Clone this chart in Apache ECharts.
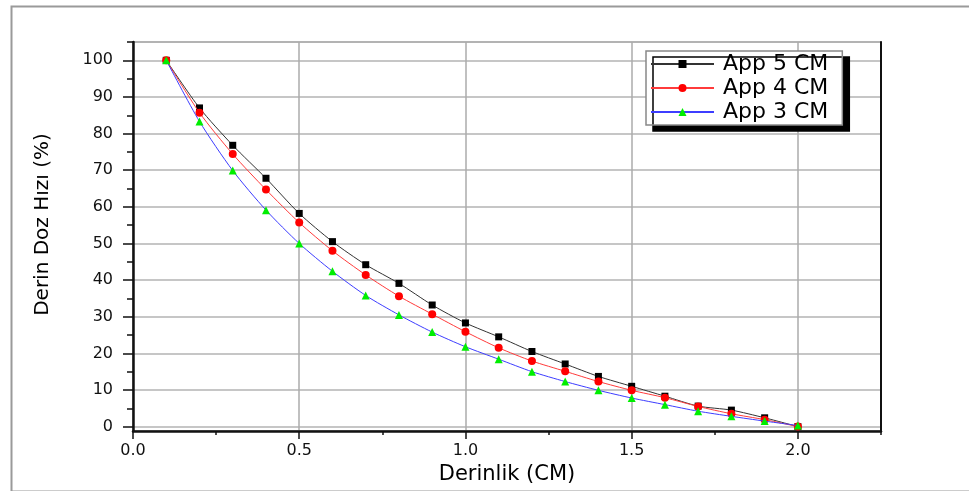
<!DOCTYPE html>
<html>
<head>
<meta charset="utf-8">
<script src="https://cdn.jsdelivr.net/npm/echarts@6/dist/echarts.min.js"></script>
<style>html,body{margin:0;padding:0;background:#fff}#c{width:969px;height:491px}</style>
</head>
<body>
<div id="c"></div>
<script>
// Depth (cm)
var depth = [0.1,0.2,0.3,0.4,0.5,0.6,0.7,0.8,0.9,1.0,1.1,1.2,1.3,1.4,1.5,1.6,1.7,1.8,1.9,2.0];
var seriesNames = ['App 5 CM','App 4 CM','App 3 CM'];
var app5 = [100,87.0,76.8,67.8,58.2,50.5,44.2,39.1,33.2,28.3,24.5,20.5,17.1,13.7,11.0,8.3,5.6,4.5,2.4,0];
var app4 = [100,85.7,74.4,64.7,55.7,48.0,41.4,35.6,30.7,25.9,21.5,17.9,15.1,12.3,9.9,7.9,5.5,3.5,1.9,0];
var app3 = [100,83.3,69.9,59.1,50.0,42.4,35.8,30.5,25.8,21.8,18.4,15.0,12.3,9.9,7.8,6.0,4.2,2.8,1.5,0.3];
var xMajor = [0,0.5,1.0,1.5,2.0];
var xMinor = [0.25,0.75,1.25,1.75,2.25];
var yMajor = [0,10,20,30,40,50,60,70,80,90,100];
var yMinor = [5,15,25,35,45,55,65,75,85,95,105];

function pairs(ys){ return depth.map(function(x,i){ return [x, ys[i]]; }); }

var FONT = 'DejaVu Sans';
var chart = echarts.init(document.getElementById('c'), null, {renderer:'canvas'});
var Y_MIN = -1.2, Y_MAX = 105, X_MIN = 0, X_MAX = 2.25;

chart.setOption({
  animation: false,
  backgroundColor: '#fff',
  graphic: [{
    type: 'rect', left: 9, top: 4, z: -10,
    shape: {width: 990, height: 485},
    style: {fill: 'none', stroke: '#9a9a9a', lineWidth: 2}
  }],
  grid: {left: 133, right: 88, top: 42, bottom: 60, show: true, borderColor: '#9a9a9a', borderWidth: 1.5, backgroundColor: 'transparent'},
  legend: {
    left: 646, top: 51, orient: 'vertical',
    data: seriesNames,
    itemWidth: 63, itemHeight: 10, itemGap: 2,
    padding: [2, 14, 2, 4],
    backgroundColor: '#fff', borderColor: '#888', borderWidth: 1.5,
    shadowColor: '#000', shadowBlur: 0, shadowOffsetX: 7, shadowOffsetY: 6,
    textStyle: {fontFamily: FONT, fontSize: 22, color: '#000', padding: [0,0,0,4], lineHeight: 21}
  },
  xAxis: [{
    type: 'value', min: X_MIN, max: X_MAX, position: 'bottom',
    name: 'Derinlik (CM)', nameLocation: 'middle', nameGap: 18,
    nameTextStyle: {fontFamily: FONT, fontSize: 21, color: '#000'},
    axisLine: {show: true, onZero: false, lineStyle: {color: '#111', width: 2.5}},
    axisTick: {show: true, inside: false, length: 8, customValues: xMajor, lineStyle: {color: '#111', width: 1.5}},
    axisLabel: {show: true, margin: 12, customValues: xMajor, fontFamily: FONT, fontSize: 16, color: '#111',
      formatter: function(v){ return v.toFixed(1); }},
    splitLine: {show: true, lineStyle: {color: '#ababab', width: 1.5}}
  }, {
    type: 'value', min: X_MIN, max: X_MAX, position: 'bottom',
    axisLine: {show: false, onZero: false},
    axisTick: {show: true, inside: false, length: 4, customValues: xMinor, lineStyle: {color: '#111', width: 1.5}},
    axisLabel: {show: false},
    splitLine: {show: false}
  }],
  yAxis: [{
    type: 'value', min: Y_MIN, max: Y_MAX, position: 'left',
    name: 'Derin Doz Hızı (%)', nameLocation: 'middle', nameGap: 80, nameRotate: 90,
    nameTextStyle: {fontFamily: FONT, fontSize: 20, color: '#000', padding: [0,0,0,24]},
    axisLine: {show: true, onZero: false, lineStyle: {color: '#111', width: 2.5}},
    axisTick: {show: true, inside: false, length: 10, customValues: yMajor, lineStyle: {color: '#111', width: 1.5}},
    axisLabel: {show: true, margin: 20, customValues: yMajor, fontFamily: FONT, fontSize: 16, color: '#111'},
    splitLine: {show: true, lineStyle: {color: '#c6c6c6', width: 1.8}}
  }, {
    type: 'value', min: Y_MIN, max: Y_MAX, position: 'left',
    axisLine: {show: false, onZero: false},
    axisTick: {show: true, inside: false, length: 6, customValues: yMinor, lineStyle: {color: '#111', width: 1.5}},
    axisLabel: {show: false},
    splitLine: {show: false}
  }, {
    type: 'value', min: Y_MIN, max: Y_MAX, position: 'right',
    axisLine: {show: true, onZero: false, lineStyle: {color: '#111', width: 2}},
    axisTick: {show: false},
    axisLabel: {show: false},
    splitLine: {show: false}
  }],
  series: [{
    name: seriesNames[0], type: 'line', data: pairs(app5),
    smooth: 0.25,
    symbol: 'rect', symbolSize: 7,
    itemStyle: {color: '#000'},
    lineStyle: {color: '#333', width: 1}, z: 3
  }, {
    name: seriesNames[1], type: 'line', data: pairs(app4),
    smooth: 0.25,
    symbol: 'circle', symbolSize: 8,
    itemStyle: {color: '#ff0000'},
    lineStyle: {color: '#ff3b3b', width: 1}, z: 4
  }, {
    name: seriesNames[2], type: 'line', data: pairs(app3),
    smooth: 0.25,
    symbol: 'triangle', symbolSize: 8,
    itemStyle: {color: '#00ee00'},
    lineStyle: {color: '#3d3dff', width: 1}, z: 5
  }]
});
</script>
</body>
</html>
